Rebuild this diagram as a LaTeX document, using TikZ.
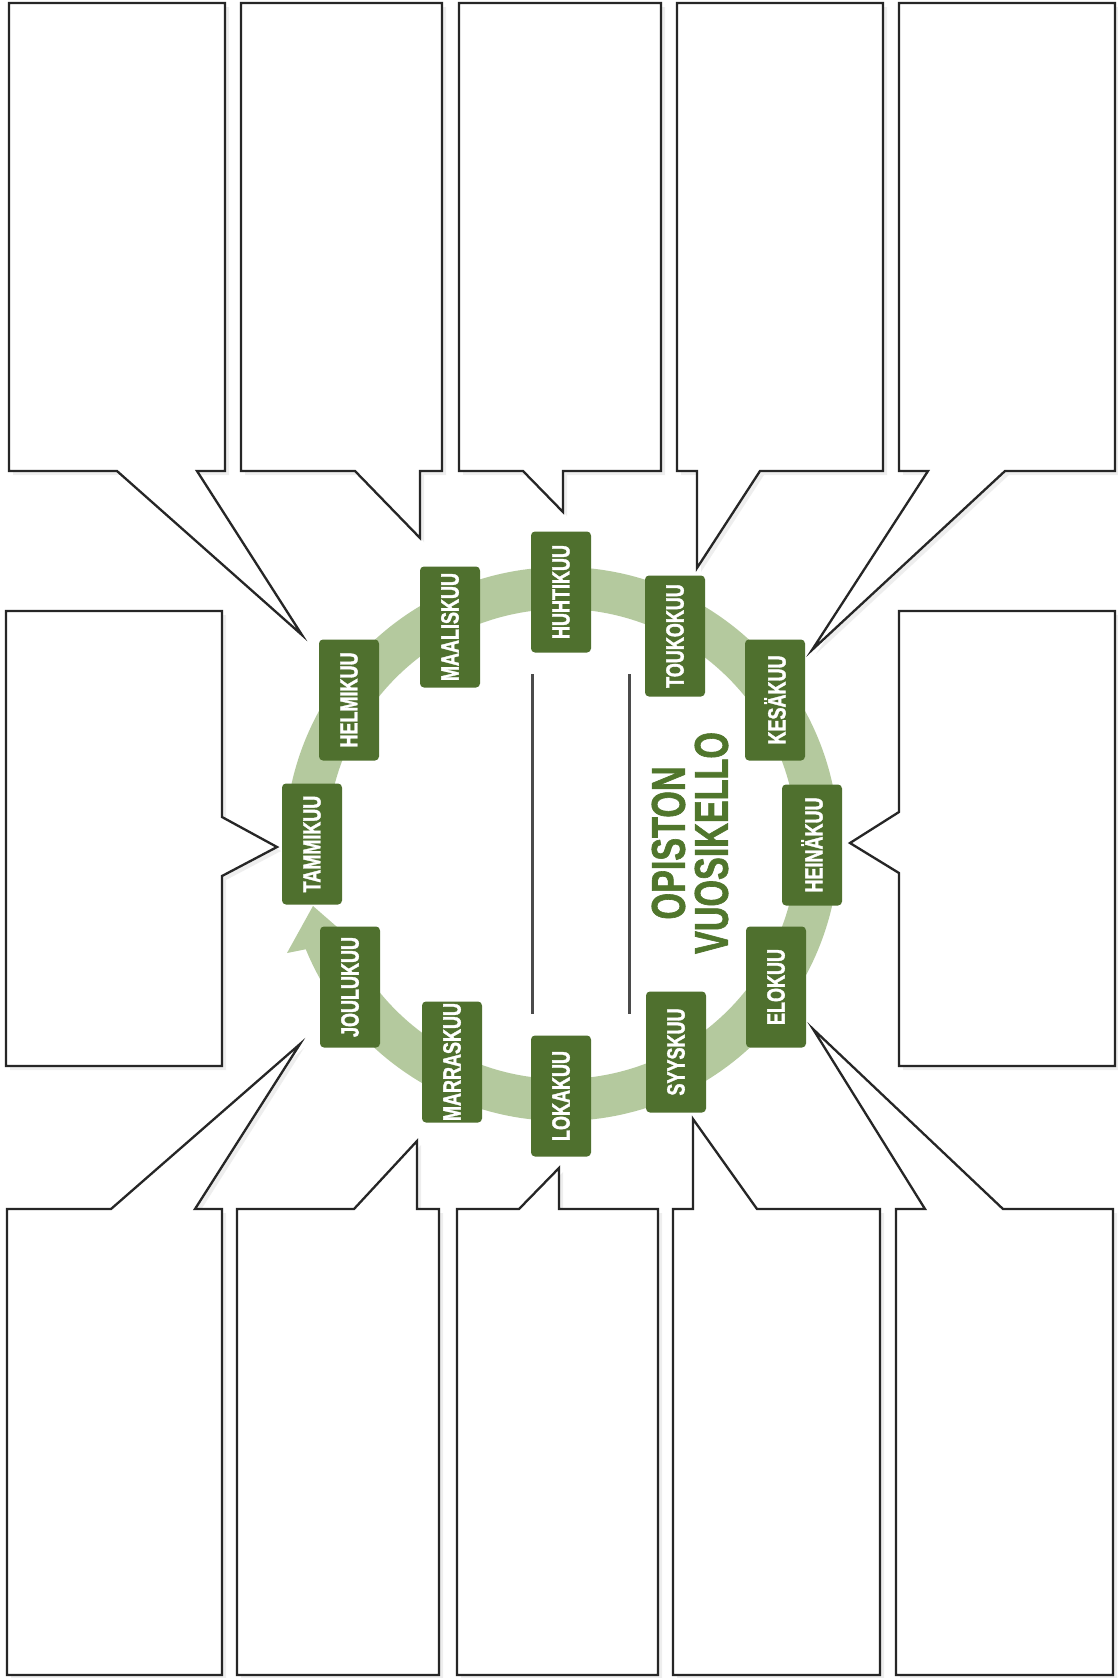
\documentclass[tikz,border=0pt]{standalone}
\usepackage{fontspec}
\newfontfamily\kuufont[FakeStretch=0.72,FakeBold=1.3]{Liberation Sans}
\usepackage{tikz}
\usetikzlibrary{calc,shadows}
\definecolor{kuugreen}{RGB}{79,112,46}
\definecolor{ringgreen}{RGB}{180,201,158}
\definecolor{titlegreen}{RGB}{80,118,44}
\definecolor{linegray}{RGB}{75,75,75}

\begin{document}
\begin{tikzpicture}[x=0.5pt, y=-0.5pt,
    kuu/.style={fill=kuugreen, rounded corners=2pt, rotate=90,
                minimum width=60.5pt, minimum height=30pt, inner sep=0pt,
                text=white, font=\kuufont\bfseries\fontsize{12.5}{13}\selectfont},
    otsikko/.style={rotate=90, align=center, inner sep=0pt, text=titlegreen,
                font=\kuufont\bfseries\fontsize{23.7}{21.5}\selectfont},
    puhe/.style={draw=black!85, line width=1.15pt, fill=white, line join=miter,
                 drop shadow={shadow xshift=2pt, shadow yshift=-2pt, opacity=0.13}},
    ring/.style={draw=ringgreen, line width=21pt},
    viiva/.style={draw=linegray, line width=1.5pt}
  ]
  \fill[white] (0,0) rectangle (1118,1678);
  \useasboundingbox (0,0) rectangle (1118,1678);

  % puhekuplat
  \draw[puhe] (9,3) -- (225,3) -- (225,471) -- (197,471) -- (302,635) -- (117,471) -- (9,471) -- cycle;
  \draw[puhe] (241,3) -- (442,3) -- (442,471) -- (420,471) -- (420,538) -- (355,471) -- (241,471) -- cycle;
  \draw[puhe] (459,3) -- (661,3) -- (661,471) -- (563,471) -- (563,512) -- (523,471) -- (459,471) -- cycle;
  \draw[puhe] (677,3) -- (883,3) -- (883,471) -- (760,471) -- (697,568) -- (697,471) -- (677,471) -- cycle;
  \draw[puhe] (899,3) -- (1115,3) -- (1115,471) -- (1005,471) -- (812,650) -- (928,471) -- (899,471) -- cycle;
  \draw[puhe] (6,611) -- (222,611) -- (222,817) -- (277,847) -- (222,876) -- (222,1066) -- (6,1066) -- cycle;
  \draw[puhe] (899,611) -- (1115,611) -- (1115,1066) -- (899,1066) -- (899,873) -- (850,843) -- (899,812) -- cycle;
  \draw[puhe] (7,1209) -- (111,1209) -- (300,1044) -- (195,1209) -- (222,1209) -- (222,1675) -- (7,1675) -- cycle;
  \draw[puhe] (237,1209) -- (354,1209) -- (417,1141) -- (417,1209) -- (439,1209) -- (439,1675) -- (237,1675) -- cycle;
  \draw[puhe] (457,1209) -- (519,1209) -- (559,1168) -- (559,1209) -- (658,1209) -- (658,1675) -- (457,1675) -- cycle;
  \draw[puhe] (673,1209) -- (693,1209) -- (693,1119) -- (757,1209) -- (880,1209) -- (880,1675) -- (673,1675) -- cycle;
  \draw[puhe] (896,1209) -- (925,1209) -- (813,1029) -- (1003,1209) -- (1113,1209) -- (1113,1675) -- (896,1675) -- cycle;

  % vuosirengas
  \coordinate (c) at (562,844);
  \draw[ring] (c) ++(172:256) arc[start angle=172, end angle=518.5, radius=256];
  \coordinate (k1) at (287,953); \coordinate (k2) at (313,906); \coordinate (k3) at (352,940);
  \fill[ringgreen] (k1) -- (k2) -- (k3) -- cycle;

  \coordinate (v1a) at (532,674); \coordinate (v1b) at (532,1014);
  \coordinate (v2a) at (629,674); \coordinate (v2b) at (629,1014);
  \draw[viiva] (v1a) -- (v1b); \draw[viiva] (v2a) -- (v2b);

  \node[kuu] (tammi)  at (312,844)  {TAMMIKUU};
  \node[kuu] (helmi)  at (349,700)  {HELMIKUU};
  \node[kuu] (maalis) at (450,627)  {MAALISKUU};
  \node[kuu] (huhti)  at (561,592)  {HUHTIKUU};
  \node[kuu] (touko)  at (675,636)  {TOUKOKUU};
  \node[kuu] (kesa)   at (775,700)  {KESÄKUU};
  \node[kuu] (heina)  at (812,845)  {HEINÄKUU};
  \node[kuu] (elo)    at (776,987)  {ELOKUU};
  \node[kuu] (syys)   at (676,1052) {SYYSKUU};
  \node[kuu] (loka)   at (561,1096) {LOKAKUU};
  \node[kuu] (marras) at (452,1062) {MARRASKUU};
  \node[kuu] (joulu)  at (350,987)  {JOULUKUU};

  \node[otsikko] (otsikko) at (690,843) {OPISTON\\VUOSIKELLO};
\end{tikzpicture}
\end{document}
